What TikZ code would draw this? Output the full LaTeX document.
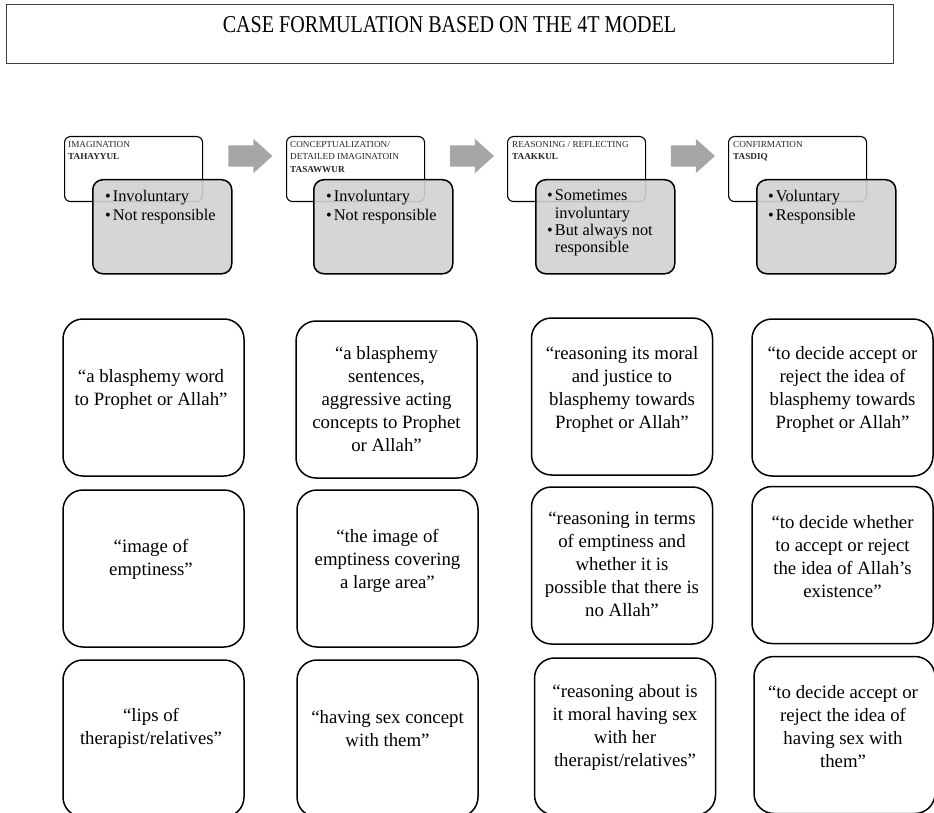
\documentclass[tikz,border=0pt]{standalone}
\usepackage{graphicx}
\usepackage{fontspec}
\setmainfont{Liberation Serif}
\usetikzlibrary{shapes.arrows,positioning}

\tikzset{
  titlebox/.style={draw=black!75, line width=1.3pt, anchor=north west, minimum width=887pt, minimum height=59pt, inner sep=0pt},
  stagebox/.style={draw, line width=1.1pt, rounded corners=6pt, fill=white, anchor=north west, minimum width=138pt, minimum height=65pt, inner sep=0pt},
  stagetext/.style={anchor=north west, inner sep=0pt, align=left, text=black!85, font=\fontsize{9.2}{12.6}\selectfont},
  notebox/.style={draw, line width=1.5pt, rounded corners=10pt, fill=black!18, fill opacity=0.9, anchor=north west, minimum width=139pt, minimum height=94pt, inner sep=0pt},
  notetext/.style={anchor=north west, inner sep=0pt, align=left, font=\fontsize{16.3}{19}\selectfont},
  stagearrow/.style={single arrow, fill=black!35, draw=none, minimum height=44pt, single arrow head extend=6.5pt, single arrow tip angle=84, inner xsep=0pt, inner ysep=10.5pt},
  quotebox/.style={draw, line width=1.5pt, rounded corners=20pt, minimum width=181pt, minimum height=157pt, inner sep=0pt},
  quotetext/.style={align=center, inner sep=0pt, font=\fontsize{18.8}{23}\selectfont}
}

\begin{document}
\begin{tikzpicture}[x=1pt, y=-1pt]
    \useasboundingbox (0,0) rectangle (934,813);
    \clip (0,0) rectangle (934,813);

    \node[titlebox] (titleframe) at (6,4) {};
    \node[font=\fontsize{20.1}{24}\selectfont] (title) at (449.5,25) {\scalebox{1}[1.2]{CASE FORMULATION BASED ON THE 4T MODEL}};

    \node[stagebox] (s1) at (64,136) {};
    \node[stagebox] (s2) at (286,136) {};
    \node[stagebox] (s3) at (507,136) {};
    \node[stagebox] (s4) at (728,136) {};
    \node[stagetext] (s1t) at (68,141) {IMAGINATION\\\textbf{TAHAYYUL}};
    \node[stagetext] (s2t) at (290,141) {CONCEPTUALIZATION/\\DETAILED IMAGINATOIN\\\textbf{TASAWWUR}};
    \node[stagetext] (s3t) at (512,141) {REASONING / REFLECTING\\\textbf{TAAKKUL}};
    \node[stagetext] (s4t) at (733,141) {CONFIRMATION\\\textbf{TASDIQ}};

    \node[stagearrow] (a12) at (244.5,156) {};
    \node[stagearrow] (a23) at (466,156) {};
    \node[stagearrow] (a34) at (687,156) {};

    \node[notebox] (n1) at (92,179) {};
    \node[notebox] (n2) at (313,179) {};
    \node[notebox] (n3) at (535,179) {};
    \node[notebox] (n4) at (756,179) {};
    \node[notetext] (n1t) at (105,190) {\textbullet\hspace{2pt}Involuntary\\\textbullet\hspace{2pt}Not responsible};
    \node[notetext] (n2t) at (326,190) {\textbullet\hspace{2pt}Involuntary\\\textbullet\hspace{2pt}Not responsible};
    \node[notetext, font=\fontsize{16.3}{17.2}\selectfont] (n3t) at (547,190) {\textbullet\hspace{2pt}Sometimes\\\hphantom{\textbullet\hspace{2pt}}involuntary\\\textbullet\hspace{2pt}But always not\\\hphantom{\textbullet\hspace{2pt}}responsible};
    \node[notetext] (n4t) at (768,190) {\textbullet\hspace{2pt}Voluntary\\\textbullet\hspace{2pt}Responsible};

    \node[quotebox] (q11) at (153.5,397.5) {};
    \node[quotebox] (q12) at (386.5,399.5) {};
    \node[quotebox] (q13) at (622,396.5) {};
    \node[quotebox] (q14) at (842.5,397.5) {};
    \node[quotebox] (q21) at (153.5,568.5) {};
    \node[quotebox] (q22) at (387.5,568.5) {};
    \node[quotebox] (q23) at (622,565.5) {};
    \node[quotebox] (q24) at (842.5,565) {};
    \node[quotebox] (q31) at (153.5,738.5) {};
    \node[quotebox] (q32) at (387.5,738.5) {};
    \node[quotebox] (q33) at (625,736.5) {};
    \node[quotebox] (q34) at (844.5,735) {};

    \node[quotetext] (t11) at (151,389) {``a blasphemy word\\to Prophet or Allah''};
    \node[quotetext] (t12) at (386.5,399) {``a blasphemy\\sentences,\\aggressive acting\\concepts to Prophet\\or Allah''};
    \node[quotetext] (t13) at (622,389.5) {``reasoning its moral\\and justice to\\blasphemy towards\\Prophet or Allah''};
    \node[quotetext] (t14) at (842.5,389.5) {``to decide accept or\\reject the idea of\\blasphemy towards\\Prophet or Allah''};
    \node[quotetext] (t21) at (151,559) {``image of\\emptiness''};
    \node[quotetext] (t22) at (387.5,560.5) {``the image of\\emptiness covering\\a large area''};
    \node[quotetext] (t23) at (622,564) {``reasoning in terms\\of emptiness and\\whether it is\\possible that there is\\no Allah''};
    \node[quotetext] (t24) at (842.5,557) {``to decide whether\\to accept or reject\\the idea of Allah's\\existence''};
    \node[quotetext] (t31) at (151,728.5) {``lips of\\therapist/relatives''};
    \node[quotetext] (t32) at (387.5,728.5) {``having sex concept\\with them''};
    \node[quotetext] (t33) at (625,727) {``reasoning about is\\it moral having sex\\with her\\therapist/relatives''};
    \node[quotetext] (t34) at (843,726.5) {``to decide accept or\\reject the idea of\\having sex with\\them''};
\end{tikzpicture}
\end{document}
